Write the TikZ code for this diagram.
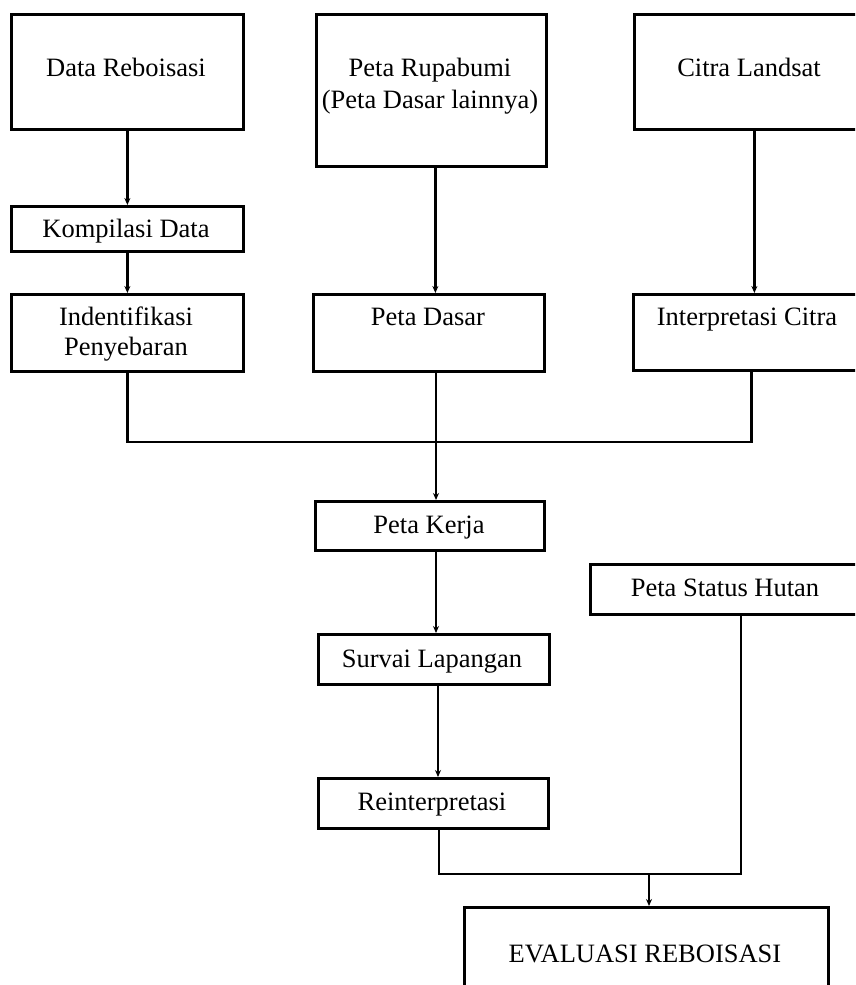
\documentclass[tikz,border=0pt]{standalone}
\usepackage{fontspec}
\setmainfont{Liberation Serif}
\usetikzlibrary{arrows.meta}
\begin{document}
\begin{tikzpicture}[x=1pt,y=-1pt,
  box/.style={draw,line width=2.8pt,rectangle,inner sep=0pt,anchor=north west},
  lbl/.style={anchor=base,font=\fontsize{26.5}{31}\selectfont,inner sep=0pt},
  conn/.style={line width=2.4pt},
  arr/.style={conn,-{Stealth[length=7pt,width=6pt]}}]
\useasboundingbox (0,0) rectangle (855,985);
\clip (0,0) rectangle (855,985);
\fill[white] (0,0) rectangle (855,985);

% boxes
\node[box,minimum width=232pt,minimum height=115pt] (dr)  at (10,13)  {};
\node[box,minimum width=230pt,minimum height=152pt] (pr)  at (315,13) {};
\node[box,minimum width=232pt,minimum height=115pt] (cl)  at (633,13) {};
\node[box,minimum width=232pt,minimum height=45pt]  (kd)  at (10,205) {};
\node[box,minimum width=232pt,minimum height=77pt]  (ip)  at (10,293) {};
\node[box,minimum width=231pt,minimum height=77pt]  (pd)  at (312,293) {};
\node[box,minimum width=232pt,minimum height=76pt]  (ic)  at (632,293) {};
\node[box,minimum width=229pt,minimum height=49pt]  (pk)  at (314,500) {};
\node[box,minimum width=273pt,minimum height=50pt]  (psh) at (589,563) {};
\node[box,minimum width=231pt,minimum height=50pt]  (sl)  at (317,633) {};
\node[box,minimum width=230pt,minimum height=50pt]  (ri)  at (317,777) {};
\node[box,minimum width=364pt,minimum height=110pt] (ev)  at (463,906) {};

% texts
\node[lbl] (tdr)  at (126,76)  {Data Reboisasi};
\node[lbl] (tpr1) at (430,76)  {Peta Rupabumi};
\node[lbl] (tpr2) at (430,108) {(Peta Dasar lainnya)};
\node[lbl] (tcl)  at (749,76)  {Citra Landsat};
\node[lbl] (tkd)  at (126,237) {Kompilasi Data};
\node[lbl] (tip1) at (126,325) {Indentifikasi};
\node[lbl] (tip2) at (126,355) {Penyebaran};
\node[lbl] (tpd)  at (428,325) {Peta Dasar};
\node[lbl] (tic)  at (747,325) {Interpretasi Citra};
\node[lbl] (tpk)  at (429,533) {Peta Kerja};
\node[lbl] (tpsh) at (725,596) {Peta Status Hutan};
\node[lbl] (tsl)  at (432,667) {Survai Lapangan};
\node[lbl] (tri)  at (432,810) {Reinterpretasi};
\node[lbl] (tev)  at (645,962) {EVALUASI REBOISASI};

% junction coordinates
\coordinate (jc) at (436,442);
\coordinate (jb) at (649,874);
\coordinate (ps) at (741,613);

% connectors
\draw[arr] (dr.south) -- (kd.north);
\draw[arr] (kd.south) -- (ip.north);
\draw[arr] ([xshift=4pt]pr.south) -- ([xshift=4pt]pr.south |- pd.north);
\draw[arr] ([xshift=4pt]cl.south) -- ([xshift=4pt]cl.south |- ic.north);

\draw[conn] (ip.south) |- (jc);
\draw[conn] ([xshift=2pt]ic.south) |- (jc);
\draw[conn] (pd.south -| jc) -- (jc);
\draw[arr] (jc) -- (jc |- pk.north);

\draw[arr] (pk.south -| jc) -- (jc |- sl.north);
\draw[arr] ([xshift=2pt]sl.south -| jc) -- ([xshift=2pt]jc |- ri.north);

\draw[conn] ([xshift=3pt]ri.south -| jc) |- (jb);
\draw[conn] (ps) |- (jb);
\draw[arr] (jb) -- (jb |- ev.north);
\end{tikzpicture}
\end{document}
